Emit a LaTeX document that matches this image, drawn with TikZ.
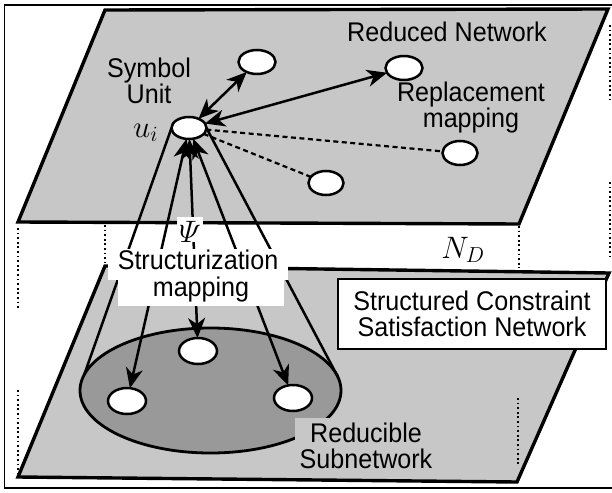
\RequirePackage{fix-cm}
\documentclass[tikz,border=0pt]{standalone}
\usepackage{amsmath}
\usepackage{fontspec}
\newfontfamily\labelfont{Liberation Sans}[FakeStretch=0.93]
\usetikzlibrary{arrows.meta,shapes.geometric}

\begin{document}
\begin{tikzpicture}[x=1pt,y=-1pt,>={Stealth[length=20pt,width=17pt,inset=6pt]}]
\tikzstyle{myplane} = [draw, line width=3.4pt, fill=black!22, line join=miter]
\tikzstyle{myunit} = [ellipse, draw, line width=2.5pt, fill=white, inner sep=0pt, outer sep=0pt, minimum width=37pt, minimum height=24pt]
\tikzstyle{mylabel} = [font=\labelfont\fontsize{27}{26}\selectfont, align=center, inner sep=0pt]
\tikzstyle{mymath} = [font=\fontsize{31}{33}\selectfont, inner sep=0pt]
\tikzstyle{mylink} = [line width=2.5pt, <->]
\tikzstyle{myrepl} = [line width=2.2pt, dash pattern=on 5pt off 3.5pt]
\tikzstyle{mycone} = [line width=2.5pt]
\tikzstyle{myhidden} = [line width=1.8pt, dash pattern=on 1.8pt off 2.8pt]

\useasboundingbox (0,0) rectangle (612,492);
\draw[line width=1.8pt] (612,5) -- (4.5,5) -- (4.5,488) -- (612,488);

% edges running between the two planes
\draw[myhidden] (18,228) -- (18,310);
\draw[myhidden] (18,390) -- (18,473);
\draw[myhidden] (105,225) -- (105,263);
\draw[myhidden] (519,226) -- (519,268);
\draw[myhidden] (610,25) -- (610,103);
\draw[myhidden] (610,182) -- (610,258);

% the two planes
\draw[myplane] (18,477) -- (105,266) -- (609,273) -- (517,482) -- cycle;
\draw[myplane] (18,222) -- (105,10) -- (608,9) -- (519,224) -- cycle;
\draw[myhidden] (518,398) -- (518,465);

\node[ellipse, draw, line width=2.8pt, fill=black!40, inner sep=0pt, outer sep=0pt,
  minimum width=261pt, minimum height=125pt] (sub) at (210.5,390.5) {};

% units
\node[myunit, minimum width=35pt, minimum height=22pt] (ui) at (189,128) {};
\node[myunit] (uup) at (257,62) {};
\node[myunit] (ured) at (404,68) {};
\node[myunit, minimum width=35pt] (urep) at (460,153) {};
\node[myunit, minimum width=35pt] (ulow) at (326,183) {};
\node[myunit, minimum width=38pt, minimum height=26pt] (sa) at (127,401) {};
\node[myunit, minimum width=38pt, minimum height=26pt] (sb) at (198,351) {};
\node[myunit, minimum width=38pt, minimum height=26pt] (sc) at (293,398) {};

\node[mylabel] (symlbl) at (149,80.6) {Symbol\\Unit};
\node[mymath, anchor=base west] (uilbl) at (133,137) {$u_i$};
\node[mylabel, anchor=base] (redlbl) at (447,42) {Reduced Network};
\node[mylabel] (replbl) at (471,108) {Replacement\\mapping};
\node[mymath] (ndlbl) at (463,250) {$N_D$};

\draw[mylink] (ui) -- (uup);
\draw[mylink] (ui) -- (ured);
\draw[myrepl] (ui) -- (urep);
\draw[myrepl] (ui) -- (ulow);
\draw[mycone] (ui.west) -- (sub.173);
\draw[mycone] (ui.east) -- (sub.6.5);
\draw[mylink] (ui) -- (sa);
\draw[mylink] (ui) -- (sb);
\draw[mylink] (ui) -- (sc);

\node[mymath, anchor=base, fill=white, text height=25pt, text depth=0pt, inner xsep=2pt] (psi) at (190,242) {$\varPsi$};
\node[mylabel, anchor=base, fill=white, text height=20pt, text depth=11pt, minimum width=180pt] (strlbl) at (198,269) {Structurization};
\node[mylabel, anchor=base, fill=white, text height=16pt, text depth=10pt, minimum width=166pt] (maplbl) at (201,296) {mapping};
\node[mylabel, fill=black!22, inner sep=5pt] (sublbl) at (366,446) {Reducible\\Subnetwork};
\node[mylabel, draw, line width=1.8pt, fill=white, minimum width=268pt, minimum height=70pt] (scsn) at (472,314) {Structured Constraint\\Satisfaction Network};
\end{tikzpicture}
\end{document}
